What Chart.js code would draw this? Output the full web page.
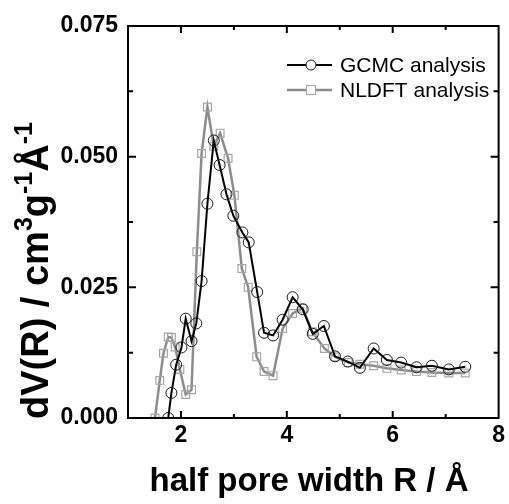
<!DOCTYPE html>
<html>
<head>
<meta charset="utf-8">
<script src="https://cdn.jsdelivr.net/npm/chart.js@4.4.1/dist/chart.umd.min.js"></script>
<style>
  html, body { margin: 0; padding: 0; background: #fff; }
  #wrap { width: 509px; height: 504px; position: relative; }
</style>
</head>
<body>
<div id="wrap"><canvas id="poreChart"></canvas></div>
<script>
// half pore width R (Å) and dV(R)
var gcmcR = [1.76, 1.82, 1.91, 2.01, 2.09, 2.20, 2.29, 2.39, 2.50, 2.62, 2.73, 2.86, 2.99, 3.16, 3.28,
             3.44, 3.57, 3.74, 3.92, 4.11, 4.30, 4.49, 4.70, 4.91, 5.15, 5.38, 5.64, 5.89, 6.16, 6.45,
             6.74, 7.06, 7.37];
var gcmcDV = [0.0000, 0.0048, 0.0102, 0.0135, 0.0190, 0.0147, 0.0181, 0.0262, 0.0410, 0.0531, 0.0484,
              0.0428, 0.0387, 0.0355, 0.0336, 0.0241, 0.0163, 0.0158, 0.0188, 0.0231, 0.0208, 0.0161,
              0.0176, 0.0118, 0.0108, 0.0096, 0.0133, 0.0111, 0.0106, 0.0097, 0.0100, 0.0093, 0.0098];

var nldftR = [1.51, 1.60, 1.67, 1.76, 1.82, 1.89, 1.98, 2.09, 2.20, 2.30, 2.39, 2.50, 2.62, 2.74, 2.89,
              3.01, 3.15, 3.27, 3.43, 3.57, 3.74, 3.92, 4.11, 4.30, 4.48, 4.71, 4.91, 5.16, 5.38, 5.64,
              5.89, 6.16, 6.45, 6.74, 7.06, 7.37];
var nldftDV = [0.0000, 0.0072, 0.0124, 0.0155, 0.0154, 0.0136, 0.0093, 0.0045, 0.0054, 0.0318, 0.0506,
               0.0595, 0.0520, 0.0545, 0.0497, 0.0426, 0.0286, 0.0250, 0.0117, 0.0089, 0.0081, 0.0171,
               0.0200, 0.0210, 0.0165, 0.0133, 0.0117, 0.0106, 0.0103, 0.0100, 0.0095, 0.0092, 0.0089,
               0.0087, 0.0086, 0.0086];

var seriesNames = ['GCMC analysis', 'NLDFT analysis'];
var xRange = [1, 8];
var yRange = [0, 0.075];
var xMajor = [2, 4, 6, 8];
var xMinor = [3, 5, 7];
var yMajor = [0, 0.025, 0.05, 0.075];
var yMinor = [0.0125, 0.0375, 0.0625];
var xTitle = 'half pore width R / Å';
// y title pieces: [text, superscript?]
var yTitle = [['dV(R) / cm', false], ['3', true], ['g', false], ['-1', true], ['Å', false], ['-1', true]];

var FONT = '"Liberation Sans", Arial, sans-serif';

function toXY(xs, ys) {
  return xs.map(function (x, i) { return { x: x, y: ys[i] }; });
}

var decorPlugin = {
  id: 'decor',
  afterDraw: function (chart) {
    var ctx = chart.ctx;
    var a = chart.chartArea;
    var xs = chart.scales.x, ys = chart.scales.y;
    ctx.save();
    ctx.strokeStyle = '#000';
    ctx.lineWidth = 2;
    ctx.strokeRect(a.left, a.top, a.right - a.left, a.bottom - a.top);

    // inward ticks on all four sides
    ctx.beginPath();
    function xt(v, len) {
      var p = xs.getPixelForValue(v);
      ctx.moveTo(p, a.bottom); ctx.lineTo(p, a.bottom - len);
      ctx.moveTo(p, a.top); ctx.lineTo(p, a.top + len);
    }
    function yt(v, len) {
      var p = ys.getPixelForValue(v);
      ctx.moveTo(a.left, p); ctx.lineTo(a.left + len, p);
      ctx.moveTo(a.right, p); ctx.lineTo(a.right - len, p);
    }
    xMajor.forEach(function (v) { if (v < xRange[1]) xt(v, 7); });
    xMinor.forEach(function (v) { xt(v, 4); });
    yMajor.forEach(function (v) { if (v > yRange[0] && v < yRange[1]) yt(v, 8); });
    yMinor.forEach(function (v) { yt(v, 5); });
    ctx.stroke();

    // x title
    ctx.fillStyle = '#000';
    ctx.font = 'bold 33px ' + FONT;
    ctx.textAlign = 'center';
    ctx.textBaseline = 'alphabetic';
    ctx.fillText(xTitle, 309, 491);

    // y title with superscripts
    ctx.translate(48, 419);
    ctx.rotate(-Math.PI / 2);
    ctx.textAlign = 'left';
    var pos = 0;
    yTitle.forEach(function (seg) {
      ctx.font = (seg[1] ? 'bold 25px ' : 'bold 38px ') + FONT;
      ctx.fillText(seg[0], pos, seg[1] ? -16 : 0);
      pos += ctx.measureText(seg[0]).width;
    });
    ctx.restore();

    // legend
    ctx.save();
    chart.data.datasets.forEach(function (ds, i) {
      var y = 65 + i * 25;
      ctx.strokeStyle = ds.borderColor;
      ctx.lineWidth = ds.borderWidth;
      ctx.beginPath();
      ctx.moveTo(287, y); ctx.lineTo(332, y);
      ctx.stroke();
      ctx.strokeStyle = ds.pointBorderColor;
      ctx.lineWidth = ds.pointBorderWidth;
      ctx.fillStyle = '#fff';
      ctx.beginPath();
      if (ds.pointStyle === 'rect') {
        ctx.rect(311 - 4.5, y - 4.5, 9, 9);
      } else {
        ctx.arc(311, y, 5, 0, Math.PI * 2);
      }
      ctx.fill();
      ctx.stroke();
      ctx.fillStyle = '#000';
      ctx.font = '21px ' + FONT;
      ctx.textAlign = 'left';
      ctx.textBaseline = 'middle';
      ctx.fillText(ds.label, 340, y + 1);
    });
    ctx.restore();
  }
};

var poreChart = new Chart(document.getElementById('poreChart'), {
  type: 'line',
  data: {
    datasets: [
      {
        label: seriesNames[0],
        data: toXY(gcmcR, gcmcDV),
        borderColor: '#000000',
        borderWidth: 2,
        pointStyle: 'circle',
        pointRadius: 5.5,
        pointBorderColor: '#1a1a1a',
        pointBorderWidth: 1,
        pointBackgroundColor: 'rgba(255,255,255,0)',
        tension: 0,
        order: 1
      },
      {
        label: seriesNames[1],
        data: toXY(nldftR, nldftDV),
        borderColor: '#8c8c8c',
        borderWidth: 2.5,
        pointStyle: 'rect',
        pointRadius: 5.5,
        pointBorderColor: '#a6a6a6',
        pointBorderWidth: 1.2,
        pointBackgroundColor: 'rgba(255,255,255,0)',
        tension: 0,
        order: 2
      }
    ]
  },
  options: {
    animation: false,
    responsive: true,
    maintainAspectRatio: false,
    layout: { padding: { top: 26, right: 10, left: 0, bottom: 0 } },
    plugins: {
      legend: { display: false },
      tooltip: { enabled: false }
    },
    scales: {
      x: {
        type: 'linear',
        min: xRange[0],
        max: xRange[1],
        grid: { display: false, drawTicks: false },
        border: { display: false },
        ticks: {
          stepSize: 1,
          autoSkip: false,
          maxRotation: 0,
          padding: 4,
          color: '#000',
          font: { family: FONT, size: 23, weight: 'bold' },
          callback: function (v) { return xMajor.indexOf(v) >= 0 ? String(v) : ''; }
        },
        afterFit: function (s) { s.height = 86; }
      },
      y: {
        min: yRange[0],
        max: yRange[1],
        grid: { display: false, drawTicks: false },
        border: { display: false },
        ticks: {
          stepSize: 0.025,
          padding: 10,
          color: '#000',
          font: { family: FONT, size: 23, weight: 'bold' },
          callback: function (v) { return v.toFixed(3); }
        },
        afterFit: function (s) { s.width = 128; }
      }
    }
  },
  plugins: [decorPlugin, {
    id: 'whiteBg',
    beforeDraw: function (chart) {
      var ctx = chart.ctx;
      ctx.save();
      ctx.fillStyle = '#fff';
      ctx.fillRect(0, 0, chart.width, chart.height);
      ctx.restore();
    }
  }]
});
</script>
</body>
</html>
